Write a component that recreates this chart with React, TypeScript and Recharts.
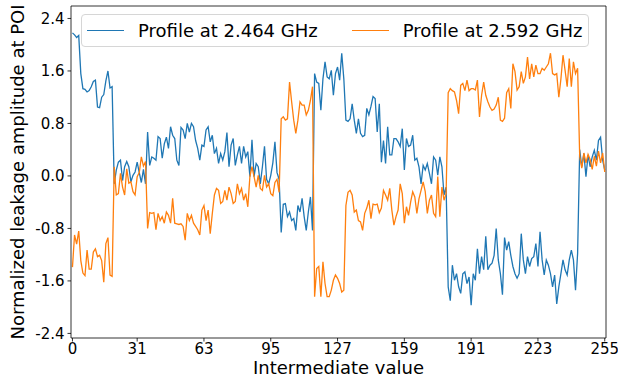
import { LineChart, Line, XAxis, YAxis, ReferenceLine } from 'recharts'

// leakage profile at 2.464 GHz, one value per intermediate value 0..255
const profile2464 = [
  2.18, 2.15, 2.11, 2.14, 1.56, 1.33, 1.32, 1.28, 1.30, 1.36,
  1.44, 1.46, 1.05, 1.04, 1.20, 1.24, 1.45, 1.60, 1.34, 1.36,
  -0.12, 0.09, 0.21, 0.24, -0.07, 0.14, 0.22, 0.14, -0.09, 0.01,
  0.06, 0.21, 0.05, -0.10, 0.10, -0.12,
  0.67, 0.16, 0.29, 0.27, 0.24, 0.60, 0.57, 0.27, 0.49, 0.59,
  0.42, 0.75, 0.62, 0.57, 0.24, 0.16, 0.74, 0.70, 0.57, 0.80,
  0.67, 0.80, 0.75, 0.54, 0.42, 0.24, 0.47, 0.45,
  0.70, 0.75, 0.52, 0.62, 0.34, 0.42, 0.19, 0.34, 0.24, 0.37,
  0.66, 0.14, 0.47, 0.57, 0.16, 0.32, 0.45, 0.19, 0.45, 0.29,
  0.37, -0.01, 0.55, -0.01, 0.19, 0.14, -0.12, 0.14, 0.45, -0.05, -0.12, 0.01,
  0.20, 0.52, 0.05, -0.05,
  -0.86, -0.43, -0.42, -0.62, -0.55, -0.68, -0.65, -0.83, -0.45, -0.55,
  -0.34, -0.62, -0.83, -0.55, -0.32, -0.83,
  1.56, 1.43, 1.41, 1.00, 1.48, 1.74, 1.51, 1.48, 1.61, 1.23, 1.56,
  1.66, 1.46, 1.87, 1.48, 0.85, 0.83, 0.87, 1.10, 0.85, 0.65,
  0.87, 0.65, 0.60, 0.62, 1.03, 0.93, 1.06, 1.21, 1.18, 0.67,
  1.10, 0.21, 0.54, 0.19, 0.75, 0.32, 0.32, 0.57, 0.57, 0.52,
  0.45, 0.72, 0.09,
  0.57, 0.45, 0.47, 0.62, 0.24, 0.27, 0.14, -0.12, 0.16, 0.09,
  0.19, 0.04, -0.12, 0.29, 0.24, 0.01, 0.29, 0.14, -0.29, -0.17,
  -1.69, -1.90, -1.36, -1.59, -1.49, -1.69, -1.79, -1.49, -1.46, -1.64,
  -1.54, -1.97,
  -1.49, -1.59, -1.11, -1.49, -1.23, -1.43, -0.92, -1.43, -1.36, -1.33,
  -1.21, -0.80, -1.28, -1.49, -1.81, -0.94, -1.13, -1.00, -1.21, -1.38,
  -1.49, -1.56, -1.49, -0.88, -1.28, -1.49, -1.23, -1.38, -1.26, -1.23,
  -1.03, -1.38,
  -0.85, -1.28, -1.51, -1.28, -1.36, -1.49, -1.69, -1.51, -1.95, -1.69,
  -1.49, -1.28, -1.43, -1.51, -1.28, -1.13, -1.28, -1.74, -1.18,
  0.40, 0.14, 0.34, -0.01, 0.32, 0.14, 0.29, 0.39, 0.24, 0.54,
  0.59, 0.24, 0.09,
]

// leakage profile at 2.592 GHz
const profile2592 = [
  -1.39, -0.90, -1.04, -0.84, -1.29, -1.48, -1.52, -1.13, -1.42, -1.42,
  -1.16, -1.11, -1.23, -1.21, -1.29, -1.62, -1.03, -0.94, -1.51, -1.53,
  0.14, -0.29, -0.27, 0.04, -0.17, -0.29, 0.11, -0.11, -0.09, -0.24,
  -0.29, -0.01, 0.05, 0.29, 0.15, 0.22,
  -0.80, -0.56, -0.57, -0.56, -0.82, -0.57, -0.68, -0.62, -0.72, -0.55,
  -0.60, -0.72, -0.34, -0.72, -0.73, -0.74, -0.73, -0.77, -0.98, -0.57,
  -0.68, -0.60, -0.72, -0.77, -0.82, -0.90, -0.52, -0.45,
  -0.68, -0.52, -0.88, -0.57, -0.29, -0.19, -0.22, -0.42, -0.39, -0.22,
  -0.37, -0.17, -0.27, -0.42, -0.39, -0.12, -0.27, -0.19, -0.37, -0.27,
  -0.47, -0.01, 0.14, -0.01, -0.17, 0.01, -0.19, -0.22, 0.01, -0.17, -0.12, -0.27,
  -0.30, -0.10, -0.05, -0.25,
  0.87, 0.90, 0.85, 0.87, 1.43, 1.13, 0.85, 0.65, 0.85, 1.13,
  1.08, 1.08, 0.93, 1.00, 1.15, 1.36,
  -1.84, -1.41, -1.38, -1.84, -1.31, -1.64, -1.84, -1.84, -1.74, -1.59, -1.51,
  -1.56, -1.64, -1.77, -1.74, -0.45, -0.25, -0.22, -0.29, -0.55, -0.52,
  -0.68, -0.70, -0.83, -0.57, -0.49, -0.37, -0.65, -0.43, -0.44, -0.43,
  -0.56, -0.49, -0.22, -0.29, -0.37, -0.19, -0.52, -0.75, -0.62, -0.52,
  -0.12, -0.27, -0.72,
  -0.47, -0.60, -0.40, -0.24, -0.32, -0.57, -0.35, -0.22, -0.09, -0.24,
  -0.57, -0.37, -0.29, -0.57, -0.62, -0.01, -0.62, -0.17, -0.37, -0.27,
  1.27, 1.33, 1.30, 1.28, 1.15, 0.95, 1.38, 1.41, 1.30, 1.46,
  1.30, 1.33,
  1.33, 1.31, 1.46, 0.90, 1.23, 1.43, 1.23, 1.13, 1.05, 1.00,
  1.02, 1.08, 1.20, 0.85, 0.83, 0.88, 1.27, 1.33, 1.03, 1.71,
  1.59, 1.31, 1.36, 1.59, 1.41, 1.51, 1.81, 1.48, 1.71, 1.51,
  1.69, 1.56,
  1.56, 1.64, 1.61, 1.66, 1.71, 1.87, 1.56, 1.54, 1.56, 1.20,
  1.48, 1.84, 1.61, 1.36, 1.79, 1.36, 1.74, 1.56, 1.64,
  0.30, 0.12, 0.35, 0.20, 0.33, 0.25, 0.10, 0.30, 0.15, 0.38,
  0.20, 0.35, 0.06,
]

const xTicks = [0, 31, 63, 95, 127, 159, 191, 223, 255]
const yTicks = [-2.4, -1.6, -0.8, 0, 0.8, 1.6, 2.4]
const seriesNames = ['Profile at 2.464 GHz', 'Profile at 2.592 GHz']

const BLUE = '#1f77b4'
const ORANGE = '#ff7f0e'
const FONT = '"DejaVu Sans", sans-serif'

const X_MIN = -0.7
const X_MAX = 255.6
const Y_MIN = -2.47
const Y_MAX = 2.59

const data = profile2464.map((v, i) => ({ x: i, a: v, b: profile2592[i] }))

function LegendBox() {
  const item = (color: string, label: string) => (
    <div style={{ display: 'flex', alignItems: 'center' }}>
      <div style={{ width: 37, height: 0, borderTop: `1.3px solid ${color}`, marginRight: 14 }} />
      <span>{label}</span>
    </div>
  )
  return (
    <div
      style={{
        position: 'absolute',
        left: 81,
        top: 14,
        width: 508,
        height: 33,
        boxSizing: 'border-box',
        border: '1px solid #d6d6d6',
        borderRadius: 4,
        background: 'rgba(255,255,255,0.8)',
        display: 'flex',
        alignItems: 'center',
        paddingLeft: 5,
        gap: 34,
        fontFamily: FONT,
        fontSize: 18,
        color: '#000',
      }}
    >
      {item(BLUE, seriesNames[0])}
      {item(ORANGE, seriesNames[1])}
    </div>
  )
}

export default function App() {
  return (
    <div style={{ position: 'absolute', left: 0, top: 0, width: 618, height: 379, background: '#fff' }}>
      <LineChart
        width={618}
        height={379}
        data={data}
        margin={{ top: 6, right: 12, left: 0, bottom: 0 }}
      >
        <XAxis
          dataKey="x"
          type="number"
          domain={[X_MIN, X_MAX]}
          ticks={xTicks}
          allowDataOverflow
          height={41}
          tickSize={3.5}
          tickMargin={2}
          stroke="#000"
          strokeWidth={0.8}
          tick={{ fill: '#000', fontSize: 15, fontFamily: FONT }}
          label={{
            value: 'Intermediate value',
            position: 'insideBottom',
            offset: 5,
            fill: '#000',
            fontSize: 18,
            fontFamily: FONT,
          }}
        />
        <YAxis
          type="number"
          domain={[Y_MIN, Y_MAX]}
          ticks={yTicks}
          allowDataOverflow
          width={71}
          tickSize={3.5}
          tickMargin={3}
          stroke="#000"
          strokeWidth={0.8}
          tickFormatter={(v: number) => v.toFixed(1)}
          tick={{ fill: '#000', fontSize: 15, fontFamily: FONT }}
          label={{
            value: 'Normalized leakage amplitude at POI',
            angle: -90,
            position: 'insideLeft',
            offset: 18,
            fill: '#000',
            fontSize: 18,
            fontFamily: FONT,
            style: { textAnchor: 'middle' },
          }}
        />
        <ReferenceLine y={Y_MAX} stroke="#000" strokeWidth={0.8} />
        <ReferenceLine x={X_MAX} stroke="#000" strokeWidth={0.8} />
        <Line
          dataKey="a"
          name={seriesNames[0]}
          type="linear"
          stroke={BLUE}
          strokeWidth={1.3}
          dot={false}
          isAnimationActive={false}
        />
        <Line
          dataKey="b"
          name={seriesNames[1]}
          type="linear"
          stroke={ORANGE}
          strokeWidth={1.3}
          dot={false}
          isAnimationActive={false}
        />
      </LineChart>
      <LegendBox />
    </div>
  )
}
